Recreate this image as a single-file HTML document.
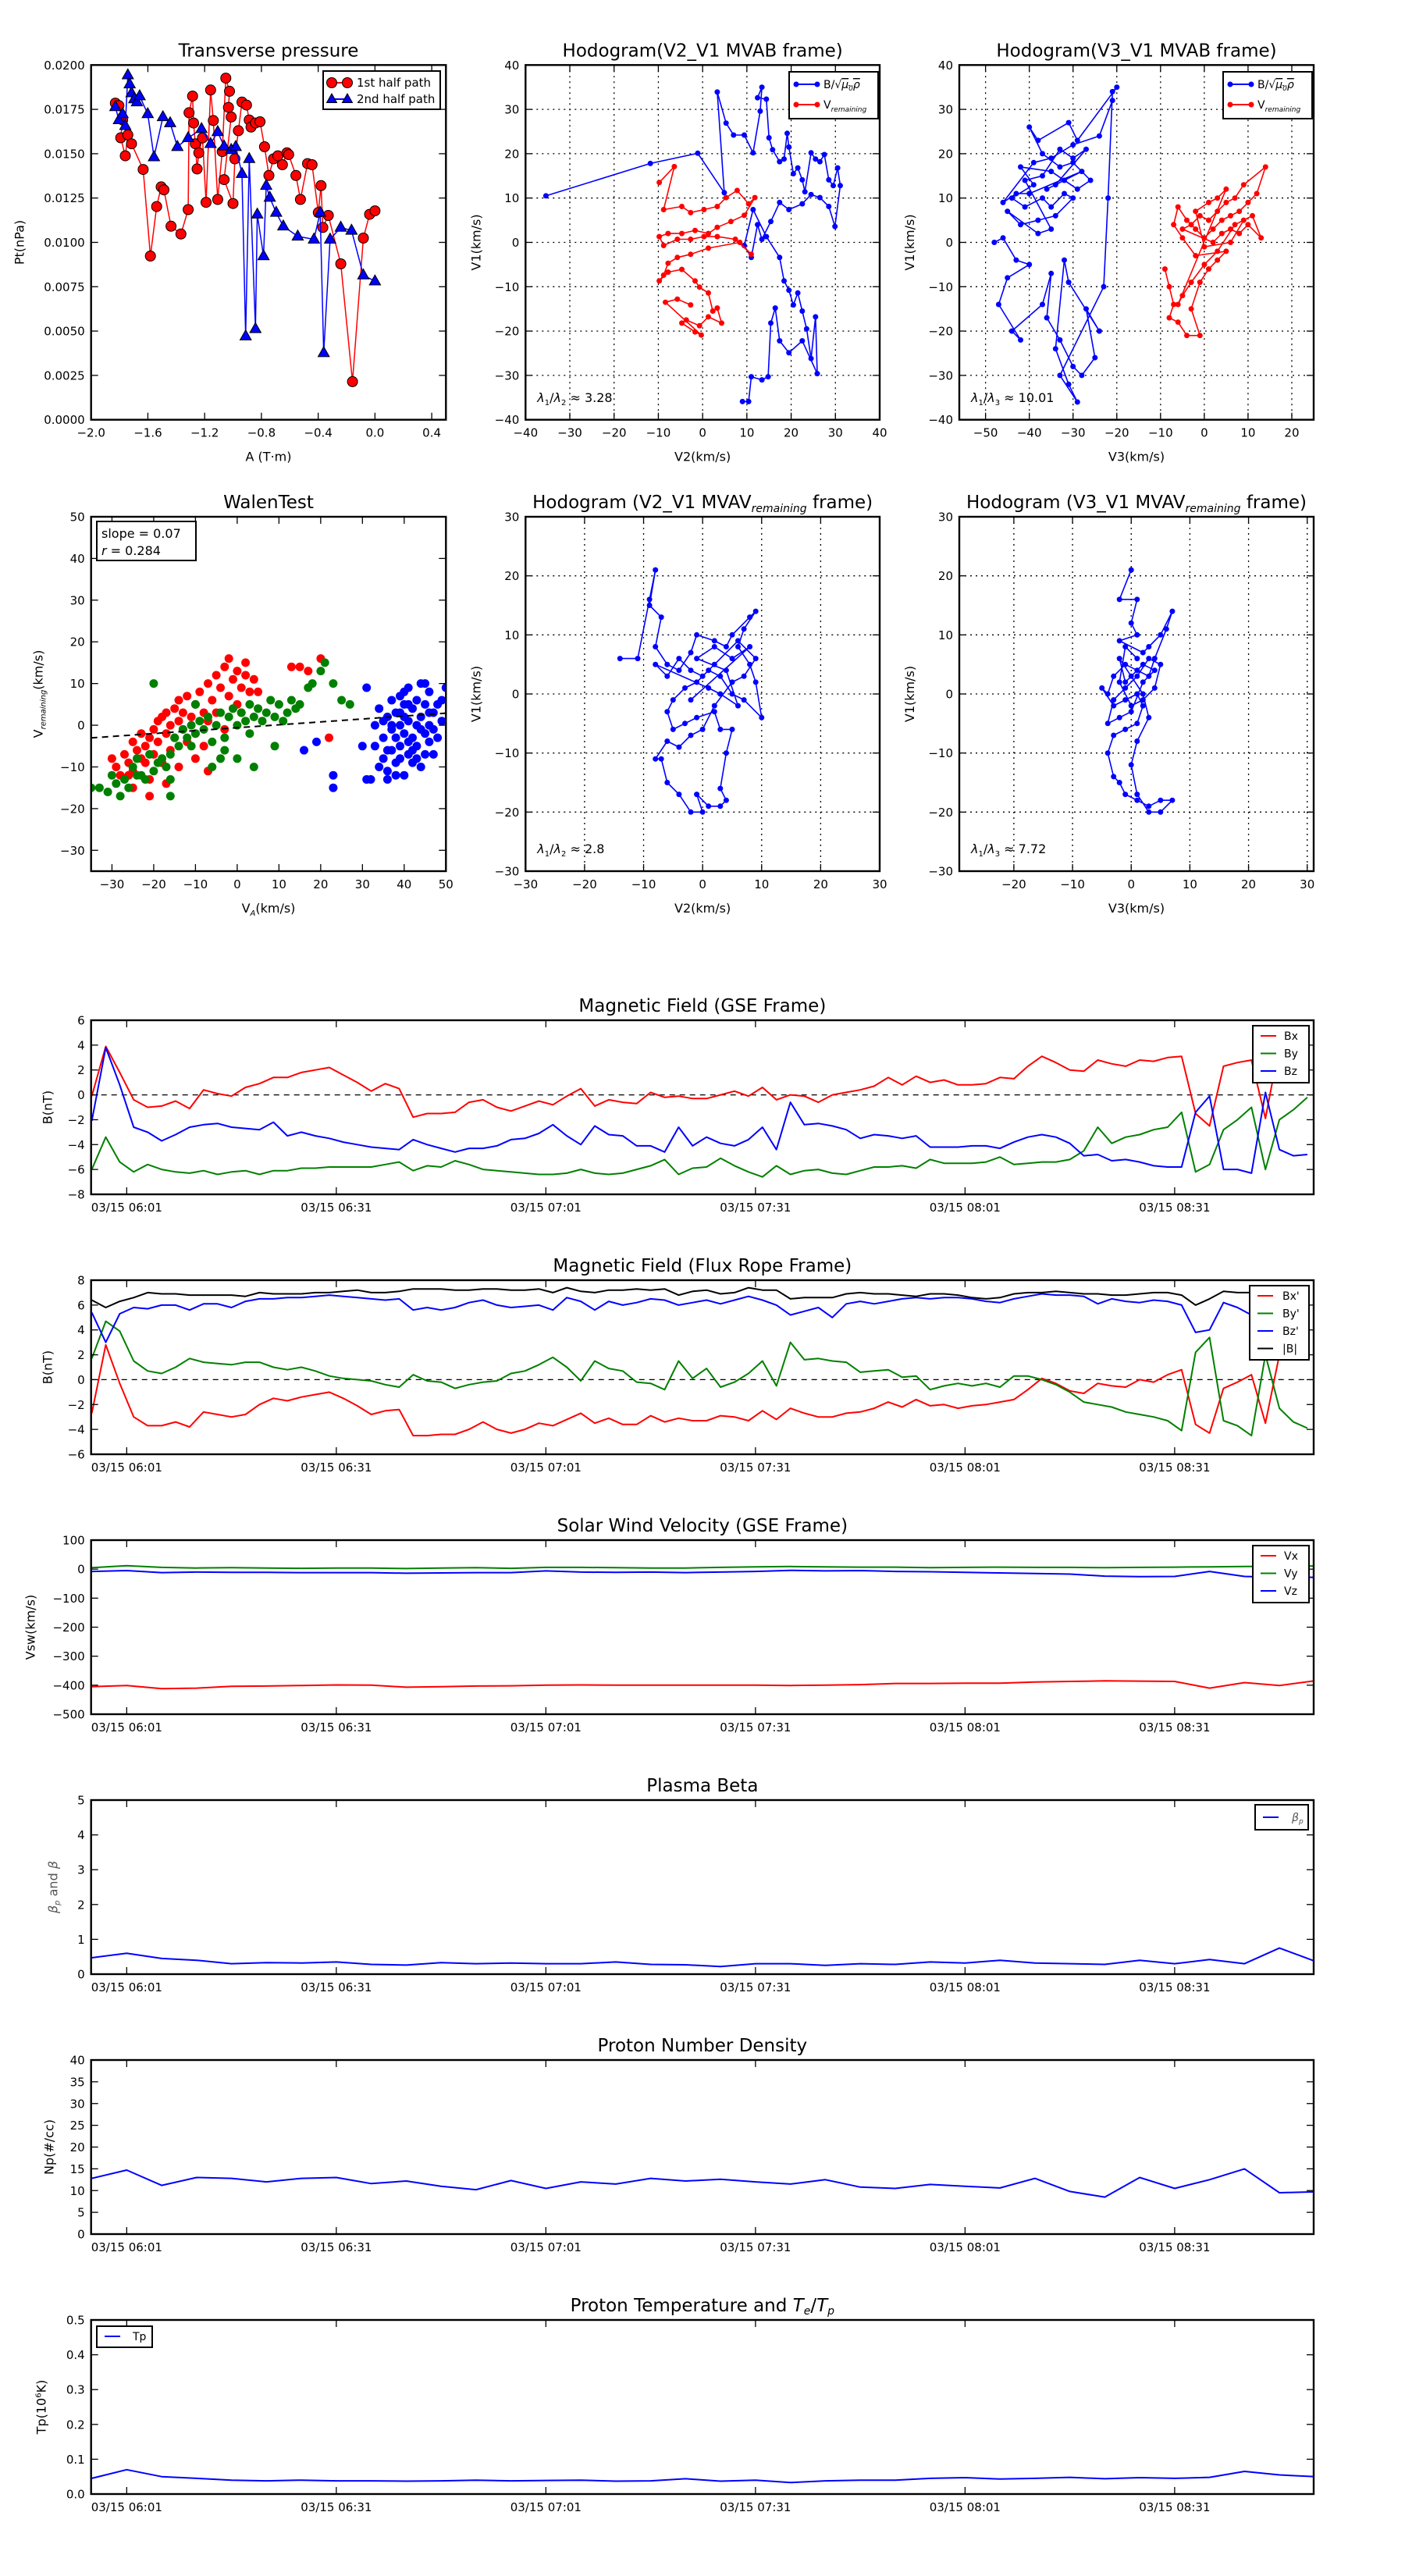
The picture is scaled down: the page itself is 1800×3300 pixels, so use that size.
<!DOCTYPE html>
<html><head><meta charset="utf-8"><style>
html,body{margin:0;padding:0;background:#fff;}
svg{display:block;}
svg text{font-family:"DejaVu Sans","Liberation Sans",sans-serif;fill:#000;}
</style></head><body>
<svg id="fig" xmlns="http://www.w3.org/2000/svg" width="1800" height="3300" viewBox="0 0 1800 3300"><defs id="defs"></defs><rect width="1800" height="3300" fill="#fff"/></svg>
<script>
// ---------- DATA ----------
const tpRed_A=[-1.829,-1.804,-1.778,-1.791,-1.759,-1.741,-1.715,-1.633,-1.582,-1.538,-1.506,-1.487,-1.437,-1.367,-1.316,-1.310,-1.285,-1.278,-1.266,-1.253,-1.241,-1.215,-1.190,-1.158,-1.139,-1.108,-1.076,-1.051,-1.025,-1.032,-1.013,-1.063,-1.0,-0.987,-0.962,-0.937,-0.905,-0.886,-0.873,-0.842,-0.810,-0.778,-0.747,-0.715,-0.684,-0.652,-0.620,-0.608,-0.557,-0.525,-0.475,-0.443,-0.399,-0.380,-0.367,-0.329,-0.241,-0.158,-0.082,-0.038,0.0];
const tpRed_P=[0.01785,0.01771,0.0169,0.0159,0.01488,0.01606,0.01556,0.01411,0.00923,0.01202,0.01313,0.01296,0.01091,0.01047,0.01185,0.01731,0.01825,0.01673,0.01556,0.01414,0.01505,0.01589,0.01226,0.01859,0.01687,0.01242,0.01512,0.01926,0.01852,0.01761,0.01707,0.01354,0.01219,0.01471,0.0163,0.01791,0.01774,0.0169,0.0165,0.01673,0.0168,0.01539,0.01377,0.01471,0.01488,0.01438,0.01505,0.01495,0.01377,0.01242,0.01444,0.01438,0.01168,0.0132,0.01084,0.01152,0.00879,0.00215,0.01024,0.01158,0.01178];
const tpBlue_A=[-1.829,-1.804,-1.778,-1.759,-1.741,-1.728,-1.715,-1.696,-1.677,-1.658,-1.601,-1.557,-1.494,-1.443,-1.392,-1.316,-1.222,-1.158,-1.108,-1.063,-1.013,-0.981,-0.937,-0.911,-0.886,-0.842,-0.829,-0.785,-0.766,-0.741,-0.696,-0.646,-0.544,-0.430,-0.386,-0.361,-0.316,-0.241,-0.165,-0.082,0.0];
const tpBlue_P=[0.01764,0.0169,0.01724,0.01657,0.01943,0.01892,0.01842,0.01808,0.01791,0.01825,0.01724,0.01481,0.01707,0.01673,0.01539,0.01589,0.0164,0.01556,0.01623,0.01542,0.01522,0.01539,0.01387,0.00471,0.01471,0.00512,0.01158,0.00923,0.0132,0.01253,0.01168,0.01091,0.01034,0.01017,0.01168,0.00377,0.01017,0.01084,0.01067,0.00815,0.00781];

const h1B_V2=[-35.4,-11.8,-1.1,4.9,3.3,5.3,7.0,9.4,11.4,13.0,13.4,12.4,14.4,15.0,15.8,17.4,18.4,19.1,19.5,20.5,21.5,22.5,23.1,24.5,25.5,26.5,27.5,28.5,29.5,30.5,31.1,29.9,28.5,26.5,24.5,22.5,19.5,17.4,15.4,13.4,12.4,11.0,9.4,11.4,14.4,17.4,18.4,19.5,20.5,21.5,22.5,23.5,24.5,25.5,25.9,22.5,19.5,17.4,16.4,15.4,14.8,13.4,11.0,10.4,9.0];
const h1B_V1=[10.5,17.8,20.1,11.2,33.9,26.9,24.2,24.2,20.2,29.6,35.0,32.6,32.3,23.6,20.9,18.2,18.8,24.6,21.5,15.5,16.8,14.1,11.4,20.2,18.8,18.2,19.8,14.1,12.8,16.8,12.8,3.6,8.1,10.1,10.8,8.7,7.4,9.0,4.7,0.7,4.0,-3.4,-0.7,7.4,1.3,-3.4,-8.7,-10.8,-14.1,-11.4,-15.5,-19.5,-26.2,-16.8,-29.6,-22.2,-24.9,-22.2,-14.8,-18.2,-30.3,-31.0,-30.3,-35.9,-35.9];
const h1V_V2=[-9.8,-6.4,-8.8,-4.7,-2.7,0.3,3.3,5.3,7.8,10.4,11.8,9.4,6.4,3.3,1.3,-1.7,-4.7,-7.8,-9.8,-8.8,-5.7,-2.7,0.3,3.3,7.4,11.0,8.4,1.3,-2.7,-5.7,-7.8,-8.8,-9.8,-7.8,-4.7,-1.7,-0.7,1.3,2.3,3.3,4.3,1.3,-0.7,-3.7,-4.7,-1.7,-0.3,-8.4,-5.7,-2.7];
const h1V_V1=[13.5,17.1,7.4,8.1,6.7,7.4,8.1,10.1,11.7,8.7,10.1,6.1,4.7,3.4,2.0,2.7,2.0,2.0,1.3,-0.7,0.7,0.7,1.3,1.3,0.7,-2.7,0.0,-1.3,-2.7,-3.4,-4.7,-7.4,-8.7,-6.7,-6.1,-8.7,-10.1,-11.4,-15.5,-14.8,-18.2,-16.8,-18.8,-17.5,-18.2,-20.2,-20.9,-13.5,-12.8,-14.1];

const h2B_V3=[-48,-46,-43,-40,-45,-47,-42,-44,-37,-35,-36,-33,-30,-28,-25,-27,-24,-31,-32,-34,-31,-29,-33,-23,-22,-21,-20,-29,-31,-38,-40,-37,-33,-30,-26,-29,-35,-42,-39,-44,-41,-37,-35,-32,-30,-34,-38,-42,-45,-38,-35,-41,-37,-33,-30,-27,-34,-36,-32,-28,-40,-43,-46,-39,-35,-30,-24,-21];
const h2B_V1=[0,1,-4,-5,-8,-14,-22,-20,-14,-7,-17,-22,-28,-30,-26,-15,-20,-9,-4,-24,-32,-36,-30,-10,10,34,35,23,27,23,26,20,17,18,14,12,16,17,13,10,8,10,8,11,10,6,5,4,7,2,3,14,15,21,19,21,13,12,14,16,11,11,9,18,19,22,24,32];
const h2V_V3=[-9,-8,-7,-8,-6,-4,-1,-3,-1,1,3,5,-2,-5,-7,-6,-4,-2,0,2,4,6,8,10,12,14,9,7,5,3,1,-1,-3,-5,2,4,6,8,10,13,11,7,3,0,-3,-5,-6,5,3,1,-2,0,6,9];
const h2V_V1=[-6,-10,-14,-17,-18,-21,-21,-15,-9,-6,-4,-2,-3,1,4,8,5,3,1,3,5,6,7,9,11,17,13,10,9,7,5,6,4,3,0,2,3,2,4,1,6,4,-2,-5,-9,-12,-14,12,10,9,7,-1,0,5];

const walRed_VA=[-30,-29,-28,-27,-26,-25,-25,-24,-23,-23,-22,-21,-21,-20,-20,-19,-19,-18,-18,-17,-17,-16,-16,-15,-15,-14,-14,-13,-13,-12,-12,-11,-10,-10,-9,-8,-8,-7,-7,-6,-5,-5,-4,-3,-3,-2,-1,0,0,1,1,2,3,4,5,-2,2,13,15,17,20,-21,-7,-25,-14,-17,22,-26,-10,-22];
const walRed_V=[-8,-10,-12,-7,-9,-4,-11,-6,-2,-8,-5,-3,-13,-1,-7,1,-4,2,-9,-2,3,0,-6,4,-3,1,6,-1,3,7,-4,2,5,-2,8,3,-5,10,1,6,12,3,9,14,-1,7,11,13,5,9,3,12,8,11,8,16,15,14,14,13,16,-17,-11,-15,-10,-14,-3,-12,-8,-9];
const walGreen_VA=[-35,-33,-31,-30,-29,-28,-27,-26,-25,-24,-23,-22,-21,-20,-19,-18,-17,-16,-15,-16,-14,-13,-12,-11,-10,-9,-8,-7,-6,-5,-4,-3,-2,-1,0,1,2,3,4,5,6,7,8,9,10,11,12,13,14,15,-4,-11,0,3,18,20,21,23,25,27,-20,-10,-6,4,9,-24,17,-16,-3];
const walGreen_V=[-15,-15,-16,-12,-14,-17,-13,-15,-10,-12,-12,-13,-7,-11,-9,-8,-10,-7,-3,-13,-5,-1,-3,0,-2,1,-1,2,-4,0,3,-6,2,4,0,3,1,5,2,4,1,3,6,2,5,1,3,6,4,5,-8,-5,-8,-2,10,13,15,10,6,5,10,5,-10,-10,-5,-8,9,-17,-3];
const walBlue_VA=[30,31,32,33,34,35,35,36,36,37,37,37,38,38,38,39,39,39,40,40,40,40,41,41,41,42,42,42,43,43,43,44,44,44,45,45,45,46,46,46,47,47,47,48,48,49,49,50,36,38,39,41,43,37,40,42,44,46,33,34,23,23,16,19,31,36,39,41,35,45];
const walBlue_V=[-5,9,-13,-5,4,-3,-8,2,-11,6,-1,-6,3,-3,-9,0,7,-5,-12,2,-2,5,-7,1,9,-3,4,-9,0,6,-5,-10,2,10,-2,5,-7,0,8,-4,3,-1,-7,5,-3,1,6,9,-6,-12,-8,-4,-8,0,8,-6,-1,3,0,-10,-12,-15,-6,-4,-13,-13,3,5,1,10];
const walSlope=0.07, walIntercept=-0.6;

const h3_V2=[-14,-11,-9,-8,-9,-7,-8,-6,-4,-2,-1,2,4,5,8,9,7,6,8,9,10,7,5,3,1,-1,-3,-5,-6,-5,-3,-1,2,3,5,4,3,4,3,1,-1,0,-2,-4,-6,-7,-8,-6,-4,-2,0,2,5,7,9,6,2,0,-2,-4,-6,-8,1,3,6,4,-1,2,5,8,-2];
const h3_V1=[6,6,16,21,15,13,8,5,4,7,10,9,8,10,13,14,11,8,5,2,-4,-1,0,3,4,2,1,-1,-3,-6,-5,-4,-3,-6,-6,-10,-16,-18,-19,-19,-17,-20,-20,-17,-15,-11,-11,-8,-9,-7,-6,-2,2,3,6,9,5,3,4,6,3,5,1,0,-2,4,6,8,6,8,-1];
const h4_V3=[0,-2,1,0,1,-2,2,3,5,7,6,4,3,1,-1,-3,-4,-5,-3,-1,1,2,1,-1,-3,-4,-3,-2,-1,1,3,5,7,5,3,1,0,1,3,2,0,-2,-1,2,4,2,0,-2,-4,-3,-1,1,3,5,4,2,0,-2,-1,1];
const h4_V1=[21,16,16,12,10,9,7,8,10,14,11,6,3,4,5,3,0,1,-2,-1,0,-2,-5,-6,-7,-10,-14,-15,-17,-18,-19,-18,-18,-20,-20,-17,-12,-8,-4,0,3,6,2,5,4,2,-3,-4,-5,-1,1,3,6,5,1,-1,-2,2,8,6];

// time series (minutes after 06:01)
const gridStart=-5, gridStep=2;
const gseBx=[-0.1,3.9,1.8,-0.4,-1.0,-0.9,-0.5,-1.1,0.4,0.1,-0.1,0.6,0.9,1.4,1.4,1.8,2.0,2.2,1.6,1.0,0.3,0.9,0.5,-1.8,-1.5,-1.5,-1.4,-0.6,-0.4,-1.0,-1.3,-0.9,-0.5,-0.8,-0.1,0.5,-0.9,-0.4,-0.6,-0.7,0.2,-0.2,-0.1,-0.3,-0.3,0.0,0.3,-0.1,0.6,-0.4,0.0,-0.1,-0.6,0.0,0.2,0.4,0.7,1.4,0.8,1.5,1.0,1.2,0.8,0.8,0.9,1.4,1.3,2.3,3.1,2.6,2.0,1.9,2.8,2.5,2.3,2.8,2.7,3.0,3.1,-1.5,-2.5,2.3,2.6,2.8,-1.9,4.0,4.3,4.5];
const gseBy=[-6,-3.4,-5.4,-6.2,-5.6,-6.0,-6.2,-6.3,-6.1,-6.4,-6.2,-6.1,-6.4,-6.1,-6.1,-5.9,-5.9,-5.8,-5.8,-5.8,-5.8,-5.6,-5.4,-6.1,-5.7,-5.8,-5.3,-5.6,-6.0,-6.1,-6.2,-6.3,-6.4,-6.4,-6.3,-6.0,-6.3,-6.4,-6.3,-6.0,-5.7,-5.2,-6.4,-5.9,-5.8,-5.1,-5.7,-6.2,-6.6,-5.7,-6.4,-6.1,-6.0,-6.3,-6.4,-6.1,-5.8,-5.8,-5.7,-5.9,-5.2,-5.5,-5.5,-5.5,-5.4,-5.0,-5.6,-5.5,-5.4,-5.4,-5.2,-4.5,-2.6,-3.9,-3.4,-3.2,-2.8,-2.6,-1.4,-6.2,-5.6,-2.8,-2.0,-1.0,-6.0,-2.0,-1.2,-0.2];
const gseBz=[-2.1,3.8,0.8,-2.6,-3.0,-3.7,-3.2,-2.6,-2.4,-2.3,-2.6,-2.7,-2.8,-2.2,-3.3,-3.0,-3.3,-3.5,-3.8,-4.0,-4.2,-4.3,-4.4,-3.6,-4.0,-4.3,-4.6,-4.3,-4.3,-4.1,-3.6,-3.5,-3.1,-2.4,-3.3,-4.0,-2.5,-3.2,-3.3,-4.1,-4.1,-4.6,-2.6,-4.1,-3.4,-3.9,-4.1,-3.6,-2.6,-4.4,-0.6,-2.4,-2.3,-2.5,-2.8,-3.5,-3.2,-3.3,-3.5,-3.3,-4.2,-4.2,-4.2,-4.1,-4.1,-4.3,-3.8,-3.4,-3.2,-3.4,-3.9,-4.9,-4.8,-5.3,-5.2,-5.4,-5.7,-5.8,-5.8,-1.4,-0.1,-6.0,-6.0,-6.3,0.2,-4.4,-4.9,-4.8];
const frBx=[-2.7,2.8,-0.3,-3.0,-3.7,-3.7,-3.4,-3.8,-2.6,-2.8,-3.0,-2.8,-2.0,-1.5,-1.7,-1.4,-1.2,-1.0,-1.5,-2.1,-2.8,-2.5,-2.4,-4.5,-4.5,-4.4,-4.4,-4.0,-3.4,-4.0,-4.3,-4.0,-3.5,-3.7,-3.2,-2.7,-3.5,-3.1,-3.6,-3.6,-2.9,-3.4,-3.1,-3.3,-3.3,-2.9,-3.0,-3.3,-2.5,-3.2,-2.3,-2.7,-3.0,-3.0,-2.7,-2.6,-2.3,-1.8,-2.2,-1.6,-2.1,-2.0,-2.3,-2.1,-2.0,-1.8,-1.6,-0.8,0.1,-0.3,-0.9,-1.1,-0.3,-0.5,-0.6,0.0,-0.2,0.4,0.8,-3.6,-4.3,-0.7,-0.2,0.4,-3.5,2.0,3.4,2.8];
const frBy=[1.7,4.7,3.9,1.5,0.7,0.5,1.0,1.7,1.4,1.3,1.2,1.4,1.4,1.0,0.8,1.0,0.7,0.3,0.1,0.0,-0.1,-0.4,-0.6,0.4,-0.1,-0.2,-0.7,-0.4,-0.2,-0.1,0.5,0.7,1.2,1.8,1.0,-0.1,1.5,0.9,0.7,-0.2,-0.3,-0.8,1.5,0.1,0.9,-0.6,-0.2,0.5,1.5,-0.5,3.0,1.6,1.7,1.5,1.4,0.6,0.7,0.8,0.2,0.3,-0.8,-0.5,-0.3,-0.5,-0.3,-0.6,0.3,0.3,0.0,-0.4,-1.0,-1.8,-2.0,-2.2,-2.6,-2.8,-3.0,-3.3,-4.1,2.2,3.4,-3.3,-3.7,-4.5,2.0,-2.3,-3.4,-3.9];
const frBz=[5.4,3.0,5.3,5.8,5.7,6.0,6.0,5.6,6.1,6.1,5.8,6.3,6.5,6.5,6.6,6.6,6.7,6.8,6.7,6.6,6.5,6.4,6.5,5.6,5.8,5.6,5.8,6.2,6.4,6.0,5.8,5.9,6.0,5.6,6.6,6.3,5.6,6.3,6.0,6.2,6.5,6.4,6.0,6.2,6.4,6.1,6.4,6.7,6.4,6.0,5.2,5.5,5.8,5.0,6.1,6.3,6.1,6.3,6.5,6.6,6.5,6.6,6.6,6.5,6.3,6.2,6.5,6.7,6.9,6.8,6.8,6.7,6.1,6.5,6.3,6.2,6.4,6.3,6.0,3.8,4.0,6.2,5.8,5.2,3.4,5.0,5.2,4.8];
const frBt=[6.4,5.8,6.3,6.6,7.0,6.9,6.9,6.8,6.8,6.8,6.8,6.7,7.0,6.9,6.9,6.9,7.0,7.0,7.1,7.2,7.0,7.0,7.1,7.3,7.3,7.3,7.2,7.2,7.3,7.3,7.2,7.2,7.3,7.0,7.4,7.1,7.0,7.2,7.2,7.3,7.2,7.3,6.8,7.1,7.2,6.9,7.0,7.4,7.2,7.2,6.5,6.6,6.6,6.6,6.9,7.0,6.9,6.9,6.8,6.7,6.9,6.9,6.8,6.6,6.5,6.6,6.9,7.0,7.0,7.1,7.0,6.9,6.9,6.8,6.8,6.9,7.0,7.0,6.8,6.0,6.5,7.1,7.0,7.0,6.9,7.0,7.0,7.0];
const coarseStart=-5, coarseStep=5;
const velVx=[-405,-401,-412,-410,-404,-403,-401,-399,-400,-407,-405,-403,-402,-400,-399,-400,-400,-400,-400,-400,-401,-400,-398,-394,-394,-393,-393,-389,-387,-385,-386,-387,-410,-391,-401,-385];
const velVy=[5,12,6,4,5,4,3,4,4,2,4,5,3,6,6,5,4,4,6,8,9,8,7,7,5,6,7,6,6,5,6,7,8,9,10,11];
const velVz=[-8,-5,-12,-10,-11,-11,-12,-12,-12,-14,-13,-12,-12,-6,-10,-11,-10,-12,-10,-8,-4,-6,-5,-8,-9,-11,-13,-15,-17,-24,-26,-25,-8,-25,-28,-28];
const betaP=[0.47,0.6,0.45,0.4,0.3,0.33,0.32,0.35,0.28,0.26,0.33,0.3,0.32,0.3,0.3,0.35,0.28,0.27,0.22,0.3,0.3,0.25,0.3,0.28,0.35,0.32,0.4,0.32,0.3,0.28,0.4,0.3,0.42,0.3,0.75,0.38];
const npDens=[12.8,14.7,11.2,13,12.8,12,12.8,13,11.6,12.2,11.0,10.2,12.3,10.5,12,11.5,12.8,12.2,12.6,12,11.5,12.5,10.8,10.5,11.4,11,10.6,12.8,9.8,8.5,13,10.5,12.5,15,9.5,9.7];
const tpTemp=[0.045,0.07,0.05,0.045,0.04,0.038,0.04,0.038,0.038,0.037,0.038,0.04,0.038,0.039,0.04,0.037,0.038,0.044,0.037,0.04,0.033,0.038,0.04,0.04,0.045,0.047,0.043,0.045,0.048,0.044,0.047,0.045,0.048,0.065,0.055,0.05];
const timeTicks=[0,30,60,90,120,150];
const timeTickLabels=["03/15 06:01","03/15 06:31","03/15 07:01","03/15 07:31","03/15 08:01","03/15 08:31"];

// ---------- DRAWING ----------
const NS='http://www.w3.org/2000/svg';
const svg=document.getElementById('fig');
const defs=document.getElementById('defs');
let clipN=0;
const M='\u2212';
function mk(tag,attrs,parent){const e=document.createElementNS(NS,tag);for(const k in attrs)e.setAttribute(k,attrs[k]);(parent||svg).appendChild(e);return e;}
function fmt(v,d){const s=Math.abs(v).toFixed(d);return (v<0?M:'')+s;}

function makeAxes(o){
  const g=mk('g',{});
  
  
  const sx=v=>o.x+(v-o.xmin)/(o.xmax-o.xmin)*o.w;
  const sy=v=>o.y+o.h-(v-o.ymin)/(o.ymax-o.ymin)*o.h;
  const cid='clip'+(clipN++);
  const cp=mk('clipPath',{id:cid},defs);
  mk('rect',{x:o.x,y:o.y,width:o.w,height:o.h},cp);
  if(o.grid){
    const gg=mk('g',{stroke:'#000','stroke-width':1.3,'stroke-dasharray':'2,5'},g);
    
    
    o.xticks.forEach(v=>mk('line',{x1:sx(v),x2:sx(v),y1:o.y,y2:o.y+o.h},gg));
    o.yticks.forEach(v=>mk('line',{x1:o.x,x2:o.x+o.w,y1:sy(v),y2:sy(v)},gg));
  }
  const data=mk('g',{'clip-path':'url(#'+cid+')'},g);
  
  
  function finish(){
    const tg=mk('g',{stroke:'#000','stroke-width':1.3},g);
    
    
    const xl=mk('g',{'font-size':15,'text-anchor':'middle'},g);
    
    
    o.xticks.forEach((v,i)=>{const X=sx(v);
      mk('line',{x1:X,x2:X,y1:o.y+o.h,y2:o.y+o.h-9},tg);
      mk('line',{x1:X,x2:X,y1:o.y,y2:o.y+9},tg);
      const t=mk('text',{x:X,y:o.y+o.h+22},xl);t.textContent=o.xlabels[i];});
    const yl=mk('g',{'font-size':15,'text-anchor':'end'},g);
    
    
    o.yticks.forEach((v,i)=>{const Y=sy(v);
      mk('line',{x1:o.x,x2:o.x+9,y1:Y,y2:Y},tg);
      mk('line',{x1:o.x+o.w,x2:o.x+o.w-9,y1:Y,y2:Y},tg);
      const t=mk('text',{x:o.x-8,y:Y+5.5},yl);t.textContent=o.ylabels[i];});
    const fr=mk('rect',{x:o.x,y:o.y,width:o.w,height:o.h,fill:'none',stroke:'#000','stroke-width':2.4},g);
    
    
    const ti=mk('text',{x:o.x+o.w/2,y:o.y-11,'font-size':23,'text-anchor':'middle'},g);
    ti.innerHTML=o.title;
    
    
    if(o.xtitle){const t=mk('text',{x:o.x+o.w/2,y:o.y+o.h+o.xtitleDy,'font-size':16,'text-anchor':'middle'},g);t.innerHTML=o.xtitle;
      
      }
    if(o.ytitle){const yx=o.x-o.ytitleDx, yy=o.y+o.h/2;
      const t=mk('text',{x:yx,y:yy,'font-size':16,'text-anchor':'middle',transform:'rotate(-90 '+yx+' '+yy+')'},g);t.innerHTML=o.ytitle;
      
      }
  }
  return {sx,sy,data,g,finish};
}
function range(a,b,s){const r=[];for(let v=a;v<=b+1e-9;v+=s)r.push(+v.toFixed(6));return r;}

function pathLine(ax,xs,ys,color,width,name,dash){
  const d=xs.map((x,i)=>(i?'L':'M')+ax.sx(x).toFixed(1)+','+ax.sy(ys[i]).toFixed(1)).join('');
  const p=mk('path',{d:d,fill:'none',stroke:color,'stroke-width':width,'stroke-linejoin':'round'},ax.data);
  if(dash)p.setAttribute('stroke-dasharray',dash);
  
  
  return p;
}
function dots(ax,xs,ys,color,r,name,stroke){
  const g=mk('g',{fill:color},ax.data);
  if(stroke){g.setAttribute('stroke',stroke);g.setAttribute('stroke-width',1);}
  
  
  xs.forEach((x,i)=>{const c=mk('circle',{cx:ax.sx(x).toFixed(1),cy:ax.sy(ys[i]).toFixed(1),r:r},g);
    
    });
}
function tris(ax,xs,ys,color,s,name){
  const g=mk('g',{fill:color,stroke:'#000','stroke-width':1},ax.data);
  
  
  xs.forEach((x,i)=>{const X=ax.sx(x),Y=ax.sy(ys[i]);
    const p=mk('polygon',{points:`${X},${Y-s} ${X-s*0.9},${Y+s*0.6} ${X+s*0.9},${Y+s*0.6}`},g);
    
    });
}
function legendBox(x,y,w,h,name){
  const r=mk('rect',{x:x,y:y,width:w,height:h,fill:'#fff',stroke:'#000','stroke-width':2});
  
  
}
function legendEntry(x1,x2,y,color,marker,label,tx,fs,name){
  const g=mk('g',{});
  
  
  mk('line',{x1:x1,x2:x2,y1:y,y2:y,stroke:color,'stroke-width':2},g);
  if(marker==='o'){[x1,x2].forEach(X=>mk('circle',{cx:X,cy:y,r:marker==='o'?6.5:3,fill:color,stroke:'#000','stroke-width':1},g));}
  if(marker==='.'){[x1,x2].forEach(X=>mk('circle',{cx:X,cy:y,r:3.5,fill:color},g));}
  if(marker==='^'){[x1,x2].forEach(X=>mk('polygon',{points:`${X},${y-7} ${X-6.5},${y+4.5} ${X+6.5},${y+4.5}`,fill:color,stroke:'#000','stroke-width':1},g));}
  const t=mk('text',{x:tx,y:y+5,'font-size':fs},g);t.innerHTML=label;
}

// Panel 1: Transverse pressure
(function(){
  const ax=makeAxes({name:'transverse-pressure-chart',x:116.7,y:83.3,w:454.6,h:454.4,xmin:-2,xmax:0.5,ymin:0,ymax:0.02,
    xticks:range(-2,0.4,0.4),xlabels:range(-2,0.4,0.4).map(v=>fmt(v,1)),
    yticks:range(0,0.02,0.0025),ylabels:range(0,0.02,0.0025).map(v=>v.toFixed(4)),
    title:'Transverse pressure',xtitle:'A (T·m)',xtitleDy:53,ytitle:'Pt(nPa)',ytitleDx:86});
  pathLine(ax,tpRed_A,tpRed_P,'#ff0000',1.5,'first-half-path-line');
  dots(ax,tpRed_A,tpRed_P,'#ff0000',6.5,'first-half-path','#000');
  pathLine(ax,tpBlue_A,tpBlue_P,'#0000ff',1.5,'second-half-path-line');
  tris(ax,tpBlue_A,tpBlue_P,'#0000ff',8,'second-half-path');
  ax.finish();
  legendBox(414,91,150,49,'pressure-legend');
  legendEntry(425,445,106,'#ff0000','o','1st half path',457,15,'legend-entry-1st-half');
  legendEntry(425,445,127,'#0000ff','^','2nd half path',457,15,'legend-entry-2nd-half');
})();

function hodo(o){
  const ax=makeAxes(o);
  o.series.forEach(s=>{pathLine(ax,s.x,s.y,s.c,1.6,s.n+'-line');dots(ax,s.x,s.y,s.c,3.5,s.n);});
  ax.finish();
  const lt=mk('text',{x:o.x+15,y:o.lamY,'font-size':16});
  lt.innerHTML=o.lam;
  
  
  if(o.legend){const lx=o.x+o.w-116;
    legendBox(lx,92,114,60,'hodogram-legend');
    legendEntry(lx+9,lx+36,108,'#0000ff','.','B/√<tspan font-style="italic" text-decoration="overline">μ<tspan font-size="9" dy="3">0</tspan><tspan dy="-3">ρ</tspan></tspan>',lx+44,14,'legend-entry-b');
    legendEntry(lx+9,lx+36,134,'#ff0000','.','V<tspan font-size="9" font-style="italic" dy="4">remaining</tspan>',lx+44,14,'legend-entry-v');
  }
}
const lam=(a,b,v)=>`<tspan font-style="italic">λ</tspan><tspan font-size="10" dy="4">${a}</tspan><tspan dy="-4">/</tspan><tspan font-style="italic">λ</tspan><tspan font-size="10" dy="4">${b}</tspan><tspan dy="-4"> ≈ ${v}</tspan>`;
hodo({name:'hodogram-v2-v1-mvab',x:673.3,y:83.3,w:453.7,h:454.4,xmin:-40,xmax:40,ymin:-40,ymax:40,grid:true,
  xticks:range(-40,40,10),xlabels:range(-40,40,10).map(v=>fmt(v,0)),yticks:range(-40,40,10),ylabels:range(-40,40,10).map(v=>fmt(v,0)),
  title:'Hodogram(V2_V1 MVAB frame)',xtitle:'V2(km/s)',xtitleDy:53,ytitle:'V1(km/s)',ytitleDx:58,
  series:[{x:h1B_V2,y:h1B_V1,c:'#0000ff',n:'b-hodogram'},{x:h1V_V2,y:h1V_V1,c:'#ff0000',n:'v-hodogram'}],lam:lam(1,2,'3.28'),lamY:515,legend:true});
hodo({name:'hodogram-v3-v1-mvab',x:1229,y:83.3,w:454,h:454.4,xmin:-56,xmax:25,ymin:-40,ymax:40,grid:true,
  xticks:range(-50,20,10),xlabels:range(-50,20,10).map(v=>fmt(v,0)),yticks:range(-40,40,10),ylabels:range(-40,40,10).map(v=>fmt(v,0)),
  title:'Hodogram(V3_V1 MVAB frame)',xtitle:'V3(km/s)',xtitleDy:53,ytitle:'V1(km/s)',ytitleDx:58,
  series:[{x:h2B_V3,y:h2B_V1,c:'#0000ff',n:'b-hodogram'},{x:h2V_V3,y:h2V_V1,c:'#ff0000',n:'v-hodogram'}],lam:lam(1,3,'10.01'),lamY:515,legend:true});

// Walen test
(function(){
  const ax=makeAxes({name:'walen-test-chart',x:116.7,y:662,w:454.6,h:454,xmin:-35,xmax:50,ymin:-35,ymax:50,
    xticks:range(-30,50,10),xlabels:range(-30,50,10).map(v=>fmt(v,0)),yticks:range(-30,50,10),ylabels:range(-30,50,10).map(v=>fmt(v,0)),
    title:'WalenTest',xtitle:'V<tspan font-size="10" font-style="italic" dy="4">A</tspan><tspan dy="-4">(km/s)</tspan>',xtitleDy:53,
    ytitle:'V<tspan font-size="10" font-style="italic" dy="4">remaining</tspan><tspan dy="-4">(km/s)</tspan>',ytitleDx:62});
  dots(ax,walRed_VA,walRed_V,'#ff0000',5.5,'walen-red');
  dots(ax,walGreen_VA,walGreen_V,'#008000',5.5,'walen-green');
  dots(ax,walBlue_VA,walBlue_V,'#0000ff',5.5,'walen-blue');
  pathLine(ax,[-35,50],[walIntercept+walSlope*-35,walIntercept+walSlope*50],'#000',2,'fit-line','8,6');
  ax.finish();
  legendBox(124,668,127,50,'walen-stats-box');
  const t1=mk('text',{x:130,y:689,'font-size':16});t1.textContent='slope = 0.07';
  
  
  const t2=mk('text',{x:130,y:711,'font-size':16});t2.innerHTML='<tspan font-style="italic">r</tspan> = 0.284';
  
  
})();
const remTitle=(a)=>`Hodogram (${a}_V1 MVAV<tspan font-size="14" font-style="italic" dy="5">remaining</tspan><tspan dy="-5"> frame)</tspan>`;
hodo({name:'hodogram-v2-v1-mvav',x:673.3,y:662,w:453.7,h:454,xmin:-30,xmax:30,ymin:-30,ymax:30,grid:true,
  xticks:range(-30,30,10),xlabels:range(-30,30,10).map(v=>fmt(v,0)),yticks:range(-30,30,10),ylabels:range(-30,30,10).map(v=>fmt(v,0)),
  title:remTitle('V2'),xtitle:'V2(km/s)',xtitleDy:53,ytitle:'V1(km/s)',ytitleDx:58,
  series:[{x:h3_V2,y:h3_V1,c:'#0000ff',n:'mvav-hodogram'}],lam:lam(1,2,'2.8'),lamY:1093});
hodo({name:'hodogram-v3-v1-mvav',x:1229,y:662,w:454,h:454,xmin:-29.3,xmax:31.1,ymin:-30,ymax:30,grid:true,
  xticks:range(-20,30,10),xlabels:range(-20,30,10).map(v=>fmt(v,0)),yticks:range(-30,30,10),ylabels:range(-30,30,10).map(v=>fmt(v,0)),
  title:remTitle('V3'),xtitle:'V3(km/s)',xtitleDy:53,ytitle:'V1(km/s)',ytitleDx:58,
  series:[{x:h4_V3,y:h4_V1,c:'#0000ff',n:'mvav-hodogram'}],lam:lam(1,3,'7.72'),lamY:1093});

// time series
function ts(o){
  const ax=makeAxes(Object.assign({x:116.7,w:1566.3,h:223,xmin:-5.1,xmax:169.9,xticks:timeTicks,xlabels:timeTickLabels},o));
  if(o.zero){pathLine(ax,[-5.1,169.9],[0,0],'#000',1.3,'zero-line','7,6');}
  o.series.forEach(s=>{const xs=s.v.map((_,i)=>s.start+s.step*i);pathLine(ax,xs,s.v,s.c,2,s.n);});
  ax.finish();
  if(o.legend){const L=o.legend;legendBox(L.x,L.y,L.w,L.h,'legend');
    L.items.forEach((it,i)=>legendEntry(L.x+10,L.x+30,L.y0+i*L.dy,it.c,'',it.t,L.tx,14,'legend-entry-'+it.n));}
}
const yl=(a,b,s,d)=>range(a,b,s).map(v=>fmt(v,d));
ts({name:'magnetic-field-gse-chart',y:1307,ymin:-8,ymax:6,yticks:range(-8,6,2),ylabels:yl(-8,6,2,0),title:'Magnetic Field (GSE Frame)',ytitle:'B(nT)',ytitleDx:50,zero:true,
  series:[{v:gseBx,c:'#ff0000',n:'bx-line',start:gridStart,step:gridStep},{v:gseBy,c:'#008000',n:'by-line',start:gridStart,step:gridStep},{v:gseBz,c:'#0000ff',n:'bz-line',start:gridStart,step:gridStep}],
  legend:{x:1605,y:1314,w:72,h:73,y0:1327,dy:22.5,tx:1645,items:[{t:'Bx',c:'#ff0000',n:'bx'},{t:'By',c:'#008000',n:'by'},{t:'Bz',c:'#0000ff',n:'bz'}]}});
ts({name:'magnetic-field-flux-rope-chart',y:1640,ymin:-6,ymax:8,yticks:range(-6,8,2),ylabels:yl(-6,8,2,0),title:'Magnetic Field (Flux Rope Frame)',ytitle:'B(nT)',ytitleDx:50,zero:true,
  series:[{v:frBx,c:'#ff0000',n:'bx-prime-line',start:gridStart,step:gridStep},{v:frBy,c:'#008000',n:'by-prime-line',start:gridStart,step:gridStep},{v:frBz,c:'#0000ff',n:'bz-prime-line',start:gridStart,step:gridStep},{v:frBt,c:'#000000',n:'b-magnitude-line',start:gridStart,step:gridStep}],
  legend:{x:1601,y:1647,w:76,h:95,y0:1660,dy:22.5,tx:1643,items:[{t:"Bx'",c:'#ff0000',n:'bxp'},{t:"By'",c:'#008000',n:'byp'},{t:"Bz'",c:'#0000ff',n:'bzp'},{t:'|B|',c:'#000',n:'bmag'}]}});
ts({name:'solar-wind-velocity-chart',y:1973,ymin:-500,ymax:100,yticks:range(-500,100,100),ylabels:yl(-500,100,100,0),title:'Solar Wind Velocity (GSE Frame)',ytitle:'Vsw(km/s)',ytitleDx:72,
  series:[{v:velVx,c:'#ff0000',n:'vx-line',start:coarseStart,step:coarseStep},{v:velVy,c:'#008000',n:'vy-line',start:coarseStart,step:coarseStep},{v:velVz,c:'#0000ff',n:'vz-line',start:coarseStart,step:coarseStep}],
  legend:{x:1605,y:1980,w:72,h:73,y0:1993,dy:22.5,tx:1645,items:[{t:'Vx',c:'#ff0000',n:'vx'},{t:'Vy',c:'#008000',n:'vy'},{t:'Vz',c:'#0000ff',n:'vz'}]}});
ts({name:'plasma-beta-chart',y:2306,ymin:0,ymax:5,yticks:range(0,5,1),ylabels:yl(0,5,1,0),title:'Plasma Beta',ytitle:'<tspan fill="#555" font-style="italic">β<tspan font-size="10" dy="3">p</tspan></tspan><tspan fill="#555" dy="-3"> and </tspan><tspan fill="#555" font-style="italic">β</tspan>',ytitleDx:43,
  series:[{v:betaP,c:'#0000ff',n:'beta-p-line',start:coarseStart,step:coarseStep}],
  legend:{x:1608,y:2312,w:68,h:32,y0:2328,dy:22,tx:1655,items:[{t:'<tspan font-style="italic" fill="#555">β<tspan font-size="9" dy="3">p</tspan></tspan>',c:'#0000ff',n:'beta-p'}]}});
ts({name:'proton-density-chart',y:2639,ymin:0,ymax:40,yticks:range(0,40,5),ylabels:yl(0,40,5,0),title:'Proton Number Density',ytitle:'Np(#/cc)',ytitleDx:48,
  series:[{v:npDens,c:'#0000ff',n:'np-line',start:coarseStart,step:coarseStep}]});
ts({name:'proton-temperature-chart',y:2972,ymin:0,ymax:0.5,yticks:range(0,0.5,0.1),ylabels:yl(0,0.5,0.1,1),title:'Proton Temperature and <tspan font-style="italic">T</tspan><tspan font-size="14" font-style="italic" dy="4">e</tspan><tspan dy="-4">/</tspan><tspan font-style="italic">T</tspan><tspan font-size="14" font-style="italic" dy="4">p</tspan>',ytitle:'Tp(10<tspan font-size="10" dy="-6">6</tspan><tspan dy="6">K)</tspan>',ytitleDx:58,
  series:[{v:tpTemp,c:'#0000ff',n:'tp-line',start:coarseStart,step:coarseStep}],
  legend:{x:124,y:2980,w:71,h:27,y0:2993,dy:22,tx:170,items:[{t:'Tp',c:'#0000ff',n:'tp'}]}});
</script>
</body></html>
